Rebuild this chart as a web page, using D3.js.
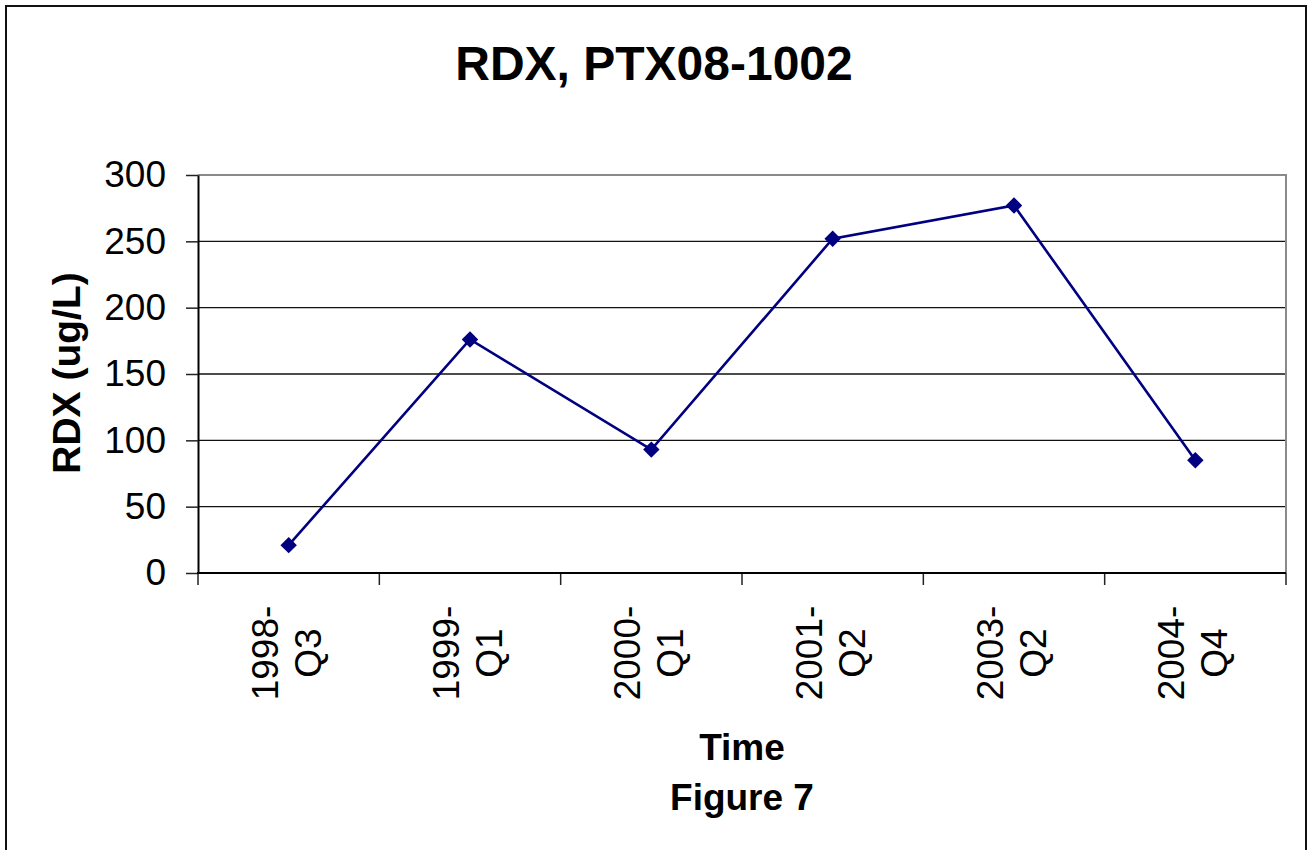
<!DOCTYPE html>
<html>
<head>
<meta charset="utf-8">
<script src="https://cdn.jsdelivr.net/npm/d3@7"></script>
<style>
  body { margin: 0; background: #fff; }
  svg { display: block; font-family: "Liberation Sans", Arial, sans-serif; }
</style>
</head>
<body>
<div id="chart"></div>
<script>
// data
var quarters = ["1998-Q3", "1999-Q1", "2000-Q1", "2001-Q2", "2003-Q2", "2004-Q4"];
var rdxValues = [21, 176, 93, 252, 277, 85];
var yTicks = [0, 50, 100, 150, 200, 250, 300];

var W = 1308, H = 850;
var plot = {left: 198, top: 175, right: 1286, bottom: 573};

var svg = d3.select("#chart").append("svg")
    .attr("width", W)
    .attr("height", H);

// outer chart frame
svg.append("rect")
    .attr("x", 6).attr("y", 6)
    .attr("width", 1300).attr("height", 900)
    .attr("fill", "#fff")
    .attr("stroke", "#111")
    .attr("stroke-width", 2);

var x = d3.scaleBand()
    .domain(quarters)
    .range([plot.left, plot.right]);

var y = d3.scaleLinear()
    .domain([0, 300])
    .range([plot.bottom, plot.top]);

// gridlines
svg.append("g")
    .selectAll("line")
    .data(yTicks.slice(1, -1))
    .enter().append("line")
    .attr("x1", plot.left).attr("x2", plot.right)
    .attr("y1", function(d) { return y(d); })
    .attr("y2", function(d) { return y(d); })
    .attr("stroke", "#111")
    .attr("stroke-width", 1.4);

// plot area border top/right (gray)
svg.append("path")
    .attr("d", "M" + plot.left + "," + plot.top + "H" + plot.right + "V" + plot.bottom)
    .attr("fill", "none")
    .attr("stroke", "#8a8a8a")
    .attr("stroke-width", 2);

// y axis
var yAxis = d3.axisLeft(y)
    .tickValues(yTicks)
    .tickSizeInner(12)
    .tickSizeOuter(0)
    .tickPadding(20);

var gy = svg.append("g")
    .attr("transform", "translate(" + plot.left + ",0)")
    .call(yAxis);
gy.select(".domain").attr("stroke", "#000").attr("stroke-width", 2);
gy.selectAll(".tick line").attr("stroke", "#222").attr("stroke-width", 1.5);
gy.selectAll(".tick text")
    .attr("font-family", "Liberation Sans, Arial, sans-serif")
    .attr("font-size", 37)
    .attr("fill", "#000");

// x axis: ticks at band edges
var edges = quarters.map(function(q) { return x(q); }).concat([plot.right]);
svg.append("g")
    .selectAll("line")
    .data(edges)
    .enter().append("line")
    .attr("x1", function(d) { return d; })
    .attr("x2", function(d) { return d; })
    .attr("y1", plot.bottom)
    .attr("y2", plot.bottom + 12)
    .attr("stroke", "#222")
    .attr("stroke-width", 1.5);

svg.append("line")
    .attr("x1", plot.left - 1).attr("x2", plot.right)
    .attr("y1", plot.bottom).attr("y2", plot.bottom)
    .attr("stroke", "#000")
    .attr("stroke-width", 2);

// rotated two-line category labels
var xLabels = svg.append("g")
    .selectAll("text")
    .data(quarters)
    .enter().append("text")
    .attr("transform", function(d) {
        var cx = x(d) + x.bandwidth() / 2;
        return "translate(" + (cx - 11) + ",653) rotate(-90)";
    })
    .attr("text-anchor", "middle")
    .attr("font-size", 37)
    .attr("fill", "#000");

xLabels.each(function(d) {
    var parts = d.split("-");
    var t = d3.select(this);
    t.append("tspan").attr("x", 0).attr("y", 0).text(parts[0] + "-");
    t.append("tspan").attr("x", 0).attr("y", 43).text(parts[1]);
});

// series line
var line = d3.line()
    .x(function(d, i) { return x(quarters[i]) + x.bandwidth() / 2; })
    .y(function(d) { return y(d); });

svg.append("path")
    .datum(rdxValues)
    .attr("d", line)
    .attr("fill", "none")
    .attr("stroke", "#000080")
    .attr("stroke-width", 2.6);

// diamond markers
svg.append("g")
    .selectAll("path")
    .data(rdxValues)
    .enter().append("path")
    .attr("d", d3.symbol().type(d3.symbolSquare).size(135))
    .attr("transform", function(d, i) {
        return "translate(" + (x(quarters[i]) + x.bandwidth() / 2) + "," + y(d) + ") rotate(45)";
    })
    .attr("fill", "#000080");

// titles
svg.append("text")
    .attr("x", 654).attr("y", 80)
    .attr("text-anchor", "middle")
    .attr("font-size", 48)
    .attr("font-weight", "bold")
    .text("RDX, PTX08-1002");

svg.append("text")
    .attr("transform", "translate(80,373) rotate(-90)")
    .attr("text-anchor", "middle")
    .attr("font-size", 39)
    .attr("font-weight", "bold")
    .text("RDX (ug/L)");

svg.append("text")
    .attr("x", 742).attr("y", 760)
    .attr("text-anchor", "middle")
    .attr("font-size", 37)
    .attr("font-weight", "bold")
    .text("Time");

svg.append("text")
    .attr("x", 742).attr("y", 810)
    .attr("text-anchor", "middle")
    .attr("font-size", 37)
    .attr("font-weight", "bold")
    .text("Figure 7");
</script>
</body>
</html>
